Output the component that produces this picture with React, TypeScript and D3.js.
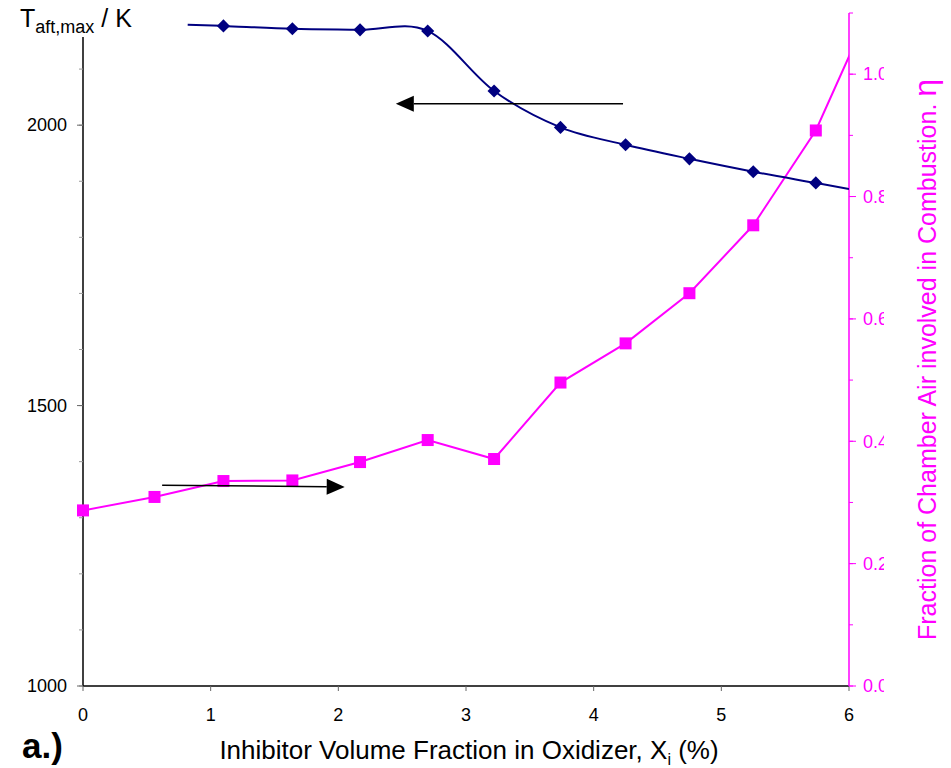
import React from 'react';
import * as d3 from 'd3';

// inhibitor volume fraction (%) at each measured point
const xFractions = [0, 0.56, 1.1, 1.64, 2.17, 2.7, 3.22, 3.74, 4.25, 4.75, 5.25, 5.74];
// adiabatic flame temp, K (no value read for the first two points)
const tempValues = [null, null, 2177, 2172, 2170, 2168, 2061, 1996, 1965, 1940, 1917, 1897];
// fraction of chamber air involved in combustion
const etaValues = [0.287, 0.309, 0.335, 0.336, 0.366, 0.402, 0.371, 0.496, 0.560, 0.642, 0.753, 0.908];
// smoothed temp curve runs a little past the markers on both ends
const tempCurveStart: [number, number] = [0.82, 2179];
const tempCurveEnd: [number, number] = [6.0, 1886];
// eta line continues beyond the right edge (clipped)
const etaNext: [number, number] = [6.25, 1.145];

const xTicks = [0, 1, 2, 3, 4, 5, 6];
const leftTicks = [1000, 1500, 2000];
const leftMinor = d3.range(1000, 2201, 100);
const rightTicks = [0, 0.2, 0.4, 0.6, 0.8, 1.0];
const rightMinor = d3.range(0, 1.101, 0.1);

// annotation arrows, in data units [x0, T0, x1, T1]
const arrowToTemp = [4.23, 2038, 2.45, 2038];
const arrowToEta = [0.62, 1358, 2.05, 1355];

const NAVY = '#000080';
const PINK = '#ff00ff';
const FONT = 'Arial, "Liberation Sans", Helvetica, sans-serif';

export default function App() {
  const W = 951, H = 768;
  const left = 83, right = 849, top = 13, bottom = 686;

  const x = d3.scaleLinear().domain([0, 6]).range([left, right]);
  const yT = d3.scaleLinear().domain([1000, 2200]).range([bottom, top]);
  const yE = d3.scaleLinear().domain([0, 1.1]).range([bottom, top]);

  const tempPts: [number, number][] = [];
  xFractions.forEach((xv, i) => {
    const v = tempValues[i];
    if (v != null) tempPts.push([xv, v]);
  });
  const tempLine = d3.line<[number, number]>()
    .x(d => x(d[0])).y(d => yT(d[1]))
    .curve(d3.curveCardinal.tension(0));
  const tempPath = tempLine([tempCurveStart, ...tempPts, tempCurveEnd]) || '';

  const etaPts: [number, number][] = xFractions.map((xv, i) => [xv, etaValues[i]]);
  const etaLine = d3.line<[number, number]>().x(d => x(d[0])).y(d => yE(d[1]));
  const etaPath = etaLine([...etaPts, etaNext]) || '';

  const arrow = (a: number[], key: string) => {
    const x0 = x(a[0]), y0 = yT(a[1]), x1 = x(a[2]), y1 = yT(a[3]);
    const ang = Math.atan2(y1 - y0, x1 - x0);
    const hl = 18, hw = 8;
    const bx = x1 - hl * Math.cos(ang), by = y1 - hl * Math.sin(ang);
    const px = -Math.sin(ang) * hw, py = Math.cos(ang) * hw;
    return (
      <g key={key}>
        <line x1={x0} y1={y0} x2={bx} y2={by} stroke="#000" strokeWidth={1.5} />
        <polygon points={`${x1},${y1} ${bx + px},${by + py} ${bx - px},${by - py}`} fill="#000" />
      </g>
    );
  };

  return (
    <svg width={W} height={H} style={{ position: 'absolute', left: 0, top: 0, background: '#fff' }}
      fontFamily={FONT}>
      <defs>
        <clipPath id="plotClip">
          <rect x={left} y={top} width={right - left} height={bottom - top} />
        </clipPath>
        <clipPath id="rightLabelClip">
          <rect x={right} y={0} width={884 - right} height={H} />
        </clipPath>
      </defs>

      {/* left axis */}
      <line x1={left} y1={top} x2={left} y2={bottom} stroke="#000" strokeWidth={1.5} />
      {leftMinor.map(v => (
        <line key={'lm' + v} x1={left - 4} x2={left} y1={yT(v)} y2={yT(v)} stroke="#999" strokeWidth={1} />
      ))}
      {leftTicks.map(v => (
        <g key={'l' + v}>
          <line x1={left - 6} x2={left} y1={yT(v)} y2={yT(v)} stroke="#666" strokeWidth={1} />
          <text x={left - 16} y={yT(v)} dy="0.35em" textAnchor="end" fontSize={18} fill="#000">{v}</text>
        </g>
      ))}

      {/* bottom axis */}
      <line x1={left} y1={bottom} x2={right} y2={bottom} stroke="#000" strokeWidth={1.5} />
      {xTicks.map(v => (
        <g key={'x' + v}>
          <line x1={x(v)} x2={x(v)} y1={bottom} y2={bottom + 5} stroke="#666" strokeWidth={1} />
          <text x={x(v)} y={bottom + 35} textAnchor="middle" fontSize={18} fill="#000">{v}</text>
        </g>
      ))}

      {/* right axis */}
      <line x1={right} y1={top} x2={right} y2={bottom} stroke={PINK} strokeWidth={1.5} />
      {rightMinor.map(v => (
        <line key={'rm' + v} x1={right} x2={right + 4} y1={yE(v)} y2={yE(v)} stroke={PINK} strokeWidth={1} />
      ))}
      <g clipPath="url(#rightLabelClip)">
        {rightTicks.map(v => (
          <g key={'r' + v}>
            <line x1={right} x2={right + 7} y1={yE(v)} y2={yE(v)} stroke={PINK} strokeWidth={1} />
            <text x={right + 14} y={yE(v)} dy="0.35em" fontSize={18} fill={PINK}>{v.toFixed(1)}</text>
          </g>
        ))}
      </g>

      {/* series */}
      <g clipPath="url(#plotClip)">
        <path d={etaPath} fill="none" stroke={PINK} strokeWidth={2} />
        <path d={tempPath} fill="none" stroke={NAVY} strokeWidth={2} />
      </g>
      {etaPts.map((d, i) => (
        <rect key={'e' + i} x={x(d[0]) - 6} y={yE(d[1]) - 6} width={12} height={12} fill={PINK} />
      ))}
      {tempPts.map((d, i) => (
        <path key={'t' + i} d={d3.symbol(d3.symbolDiamond2, 110)() || ''}
          transform={`translate(${x(d[0])},${yT(d[1])})`} fill={NAVY} />
      ))}

      {arrow(arrowToTemp, 'a1')}
      {arrow(arrowToEta, 'a2')}

      {/* left axis title (covers the top of the axis line) */}
      <rect x={left - 12} y={0} width={24} height={37} fill="#fff" />
      <text x={20} y={27} fontSize={25} fill="#000">
        T<tspan fontSize={18} dy={6}>aft,max</tspan><tspan dy={-6}> / K</tspan>
      </text>

      {/* right axis title */}
      <text transform={`translate(936, 640) rotate(-90)`} fontSize={25} fill={PINK}>
        Fraction of Chamber Air involved in Combustion. <tspan fontSize={32}>η</tspan>
      </text>

      {/* x axis title */}
      <text x={469} y={759} textAnchor="middle" fontSize={26} fill="#000">
        Inhibitor Volume Fraction in Oxidizer, X<tspan fontSize={16} dy={6}>i</tspan><tspan dy={-6}> (%)</tspan>
      </text>

      <text x={22} y={758} fontSize={35} fontWeight="bold" fill="#000">a.)</text>
    </svg>
  );
}
